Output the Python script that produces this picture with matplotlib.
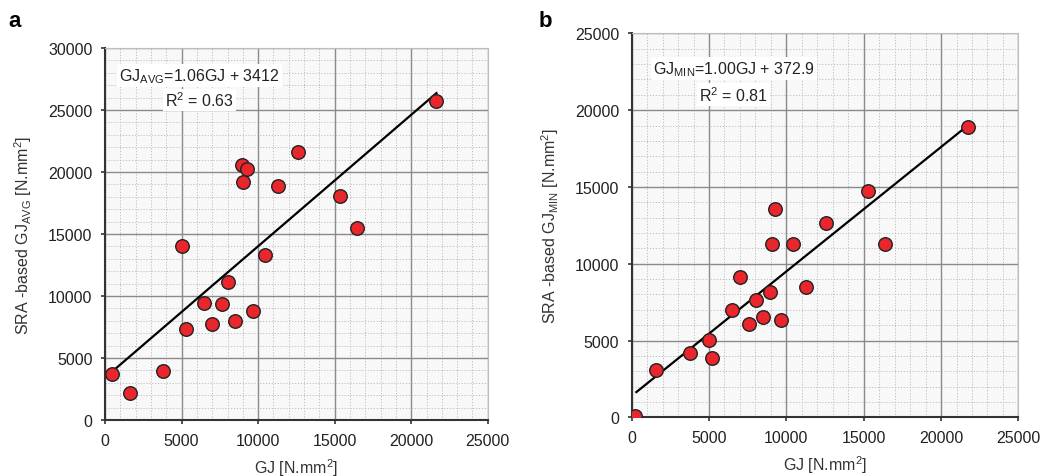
import numpy as np
import matplotlib
matplotlib.use("Agg")
import matplotlib.pyplot as plt
from matplotlib.ticker import MultipleLocator

plt.rcParams['font.family'] = ['Liberation Sans', 'DejaVu Sans']
plt.rcParams['mathtext.fontset'] = 'custom'
plt.rcParams['mathtext.rm'] = 'Liberation Sans'
plt.rcParams['mathtext.it'] = 'Liberation Sans'

# Panel a data
gj_a = [437, 1632, 3808, 5026, 5287, 6462, 6984, 7660, 8010, 8486, 9680, 10460,
        8940, 9250, 9010, 11310, 12580, 15340, 16430, 21650]
avg_a = [3710, 2180, 3950, 14000, 7340, 9435, 7740, 9355, 11150, 7980, 8820, 13280,
         20560, 20240, 19220, 18900, 21590, 18040, 15510, 25750]
line_a = (1.06, 3412)  # slope, intercept of drawn trend line

# Panel b data
gj_b = [200, 1570, 3770, 5000, 5220, 6460, 7000, 7600, 8020, 8510, 8940, 9090,
        9650, 10460, 11250, 16370, 9250, 12550, 15250, 21720]
min_b = [60, 3100, 4180, 5020, 3850, 6980, 9150, 6080, 7660, 6560, 8130, 11310,
         6320, 11310, 8470, 11310, 13560, 12620, 14730, 18890]
line_b = (0.81, 1400)  # slope, intercept of drawn trend line

xticks = [0, 5000, 10000, 15000, 20000, 25000]

fig = plt.figure(figsize=(10.4, 4.77), dpi=100)
ax_a = fig.add_axes([0.101, 0.1174, 0.368, 0.7799])
ax_b = fig.add_axes([0.6074, 0.123, 0.3718, 0.805])

FS = 11.5


def style(ax, ymax, sub, eq, r2, p1, p2):
    ax.set_facecolor('#f8f8f8')
    ax.set_xlim(0, 25000)
    ax.set_ylim(0, ymax)
    ax.set_xticks(xticks)
    ax.set_yticks(np.arange(0, ymax + 1, 5000))
    ax.xaxis.set_minor_locator(MultipleLocator(1000))
    ax.yaxis.set_minor_locator(MultipleLocator(1000))
    ax.grid(which='major', color='#8a8a8a', lw=1.0)
    ax.grid(which='minor', color='#b8b8b8', lw=0.6, ls=(0, (1.5, 2)))
    ax.set_axisbelow(True)
    for s in ['top', 'right']:
        ax.spines[s].set_color('#bdbdbd')
        ax.spines[s].set_linewidth(0.8)
    for s in ['left', 'bottom']:
        ax.spines[s].set_color('#333333')
        ax.spines[s].set_linewidth(1.5)
    ax.tick_params(which='major', length=3, width=1.2, labelsize=FS, color='#333333',
                   labelcolor='#222222', pad=6)
    ax.tick_params(which='minor', length=0)
    ax.set_xlabel('GJ [N.mm$^2$]', fontsize=FS, color='#333333', labelpad=6)
    ax.set_ylabel('SRA -based GJ$_{\\mathrm{' + sub + '}}$ [N.mm$^2$]', fontsize=FS,
                  color='#333333', labelpad=10)
    ax.text(p1[0], p1[1], 'GJ$_{\\mathrm{' + sub + '}}$' + eq, fontsize=FS,
            transform=ax.transAxes, va='center', ha='left', color='#222222',
            bbox=dict(facecolor='white', edgecolor='none', pad=1.5))
    ax.text(p2[0], p2[1], 'R$^2$ = ' + r2, fontsize=FS,
            transform=ax.transAxes, va='center', ha='left', color='#222222',
            bbox=dict(facecolor='white', edgecolor='none', pad=1.5))


style(ax_a, 30000, 'AVG', '=1.06GJ + 3412', '0.63', (0.037, 0.925), (0.157, 0.86))
style(ax_b, 25000, 'MIN', '=1.00GJ + 372.9', '0.81', (0.055, 0.908), (0.174, 0.84))

for ax, x, y, ln in [(ax_a, gj_a, avg_a, line_a), (ax_b, gj_b, min_b, line_b)]:
    xs = np.array([min(x) + 100, max(x)])
    ax.plot(xs, ln[0] * xs + ln[1], color='black', lw=1.6, zorder=3)
    ax.scatter(x, y, s=95, facecolor='#e8262b', edgecolor='#222222', linewidth=1.0, zorder=4)

fig.text(0.008, 0.955, 'a', fontsize=16, fontweight='bold', va='center')
fig.text(0.518, 0.955, 'b', fontsize=16, fontweight='bold', va='center')

fig.savefig('out.png', dpi=100)
